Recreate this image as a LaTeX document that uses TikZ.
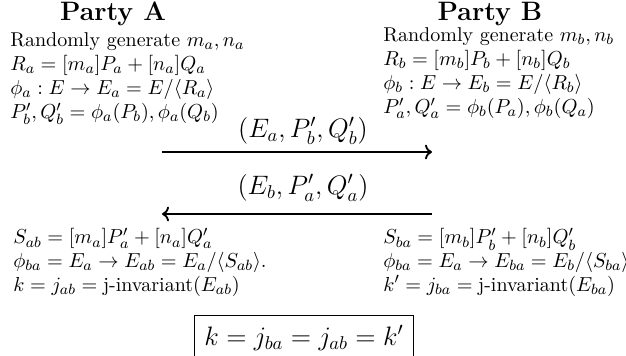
\documentclass[tikz,border=0pt]{standalone}
\usepackage{amsmath,amssymb}
\usepackage{tikz}
\usetikzlibrary{arrows.meta,calc,positioning}

\begin{document}
\begin{tikzpicture}[x=0.54pt,y=-0.54pt,
  party/.style={font=\Large\bfseries,inner sep=0pt},
  block/.style={align=left,inner sep=0pt,anchor=north west,font=\fontsize{10.8}{11.7}\selectfont},
  msg/.style={line width=1pt,->},
  lab/.style={font=\fontsize{13.6}{16}\selectfont,inner sep=0pt}]
  \useasboundingbox (0,0) rectangle (626,355);
  \node[party] (pa) at (113,14) {Party A};
  \node[party] (pb) at (490,14) {Party B};
  \node[block] (ta) at (10,32) {Randomly generate $m_a,n_a$\\[1.3pt] $R_a=[m_a]P_a+[n_a]Q_a$\\[1.3pt] $\phi_a:E\to E_a=E/\langle R_a\rangle$\\[1.3pt] $P'_b,Q'_b=\phi_a(P_b),\phi_a(Q_b)$};
  \node[block] (tb) at (383,27) {Randomly generate $m_b,n_b$\\[1.3pt] $R_b=[m_b]P_b+[n_b]Q_b$\\[1.3pt] $\phi_b:E\to E_b=E/\langle R_b\rangle$\\[1.3pt] $P'_a,Q'_a=\phi_b(P_a),\phi_b(Q_a)$};
  % messages
  \coordinate (a1) at (162,152); \coordinate (b1) at (432,152);
  \coordinate (a2) at (162,214); \coordinate (b2) at (432,214);
  \node[lab] (m1) at (303,131) {$(E_a,P'_b,Q'_b)$};
  \node[lab] (m2) at (303,188) {$(E_b,P'_a,Q'_a)$};
  \draw[msg] (a1) -- (b1);
  \draw[msg] (b2) -- (a2);
  \node[block] (sa) at (13,228) {$S_{ab}=[m_a]P'_a+[n_a]Q'_a$\\[1pt] $\phi_{ba}=E_a\to E_{ab}=E_a/\langle S_{ab}\rangle.$\\[1pt] $k=j_{ab}=\text{j-invariant}(E_{ab})$};
  \node[block] (sb) at (383,228) {$S_{ba}=[m_b]P'_b+[n_b]Q'_b$\\[1pt] $\phi_{ba}=E_a\to E_{ba}=E_b/\langle S_{ba}\rangle$\\[1pt] $k'=j_{ba}=\text{j-invariant}(E_{ba})$};
  \node[draw,line width=0.5pt,minimum width=118pt,minimum height=24pt,font=\Large] (key) at (304,338) {$k=j_{ba}=j_{ab}=k'$};
\end{tikzpicture}
\end{document}
